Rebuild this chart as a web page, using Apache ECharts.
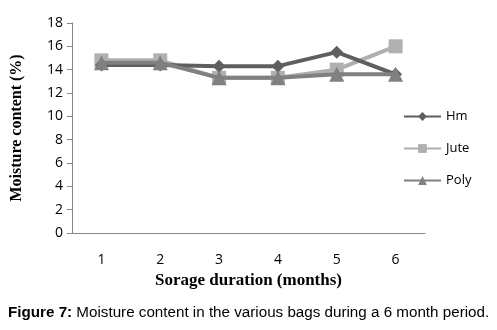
<!DOCTYPE html>
<html>
<head>
<meta charset="utf-8">
<script src="https://cdn.jsdelivr.net/npm/echarts@6/dist/echarts.min.js"></script>
<style>
  html, body { margin: 0; padding: 0; background: #fff; }
  #chart { width: 497px; height: 330px; }
</style>
</head>
<body>
<div id="chart"></div>
<script>
var months = ['1', '2', '3', '4', '5', '6'];
var hm = [14.4, 14.4, 14.3, 14.3, 15.5, 13.6];
var jute = [14.8, 14.8, 13.3, 13.3, 14.0, 16.0];
var poly = [14.6, 14.6, 13.3, 13.3, 13.6, 13.6];

var myChart = echarts.init(document.getElementById('chart'));
var option = {
  animation: false,
  grid: {
    left: 72,
    right: 72,
    top: 23,
    bottom: 97
  },
  legend: {
    orient: 'vertical',
    left: 398,
    top: 105,
    itemGap: 19,
    itemWidth: 37,
    itemHeight: 11,
    textStyle: { fontFamily: 'Open Sans', fontSize: 13, color: '#000' },
    data: ['Hm', 'Jute', 'Poly']
  },
  xAxis: {
    type: 'category',
    data: months,
    name: 'Sorage duration (months)',
    nameLocation: 'middle',
    nameGap: 33,
    nameTextStyle: { fontFamily: 'Liberation Serif', fontWeight: 'bold', fontSize: 17, color: '#000' },
    axisLine: { lineStyle: { color: '#868686' } },
    axisTick: { length: 5, lineStyle: { color: '#868686' } },
    axisLabel: { fontFamily: 'Open Sans', fontSize: 14, color: '#000', margin: 20 }
  },
  yAxis: {
    type: 'value',
    min: 0,
    max: 18,
    interval: 2,
    name: 'Moisture content (%)',
    nameLocation: 'middle',
    nameGap: 47,
    nameTextStyle: { fontFamily: 'Liberation Serif', fontWeight: 'bold', fontSize: 16, color: '#000' },
    axisLine: { show: true, lineStyle: { color: '#868686' } },
    axisTick: { show: true, length: 5, lineStyle: { color: '#868686' } },
    splitLine: { show: false },
    axisLabel: { fontFamily: 'Open Sans', fontSize: 14, color: '#000', margin: 9 }
  },
  series: [
    {
      name: 'Hm',
      type: 'line',
      data: hm,
      symbol: 'diamond',
      symbolSize: 13,
      z: 3,
      itemStyle: { color: '#5f5f5f' },
      lineStyle: { width: 4, color: '#5f5f5f' }
    },
    {
      name: 'Jute',
      type: 'line',
      data: jute,
      symbol: 'rect',
      symbolSize: 14,
      z: 2,
      itemStyle: { color: '#b0b0b0' },
      lineStyle: { width: 4, color: '#b0b0b0' }
    },
    {
      name: 'Poly',
      type: 'line',
      data: poly,
      symbol: 'triangle',
      symbolSize: 15,
      z: 4,
      itemStyle: { color: '#808080' },
      lineStyle: { width: 4, color: '#808080' }
    }
  ],
  graphic: [
    {
      type: 'text',
      left: 8,
      top: 305,
      style: {
        rich: {
          b: { fontFamily: 'Liberation Sans', fontWeight: 'bold', fontSize: 15.2, fill: '#000' },
          n: { fontFamily: 'Liberation Sans', fontSize: 15.2, fill: '#000' }
        },
        text: '{b|Figure 7:}{n| Moisture content in the various bags during a 6 month period.}'
      }
    }
  ]
};
myChart.setOption(option);
</script>
</body>
</html>
